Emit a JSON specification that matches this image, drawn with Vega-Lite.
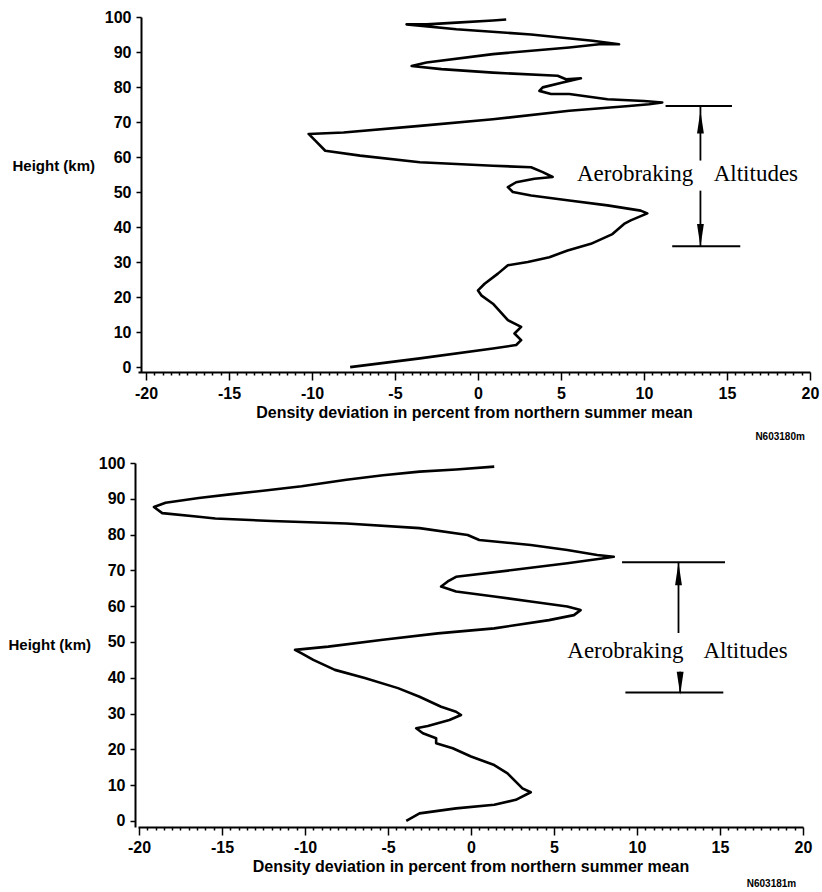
{
  "$schema": "https://vega.github.io/schema/vega-lite/v6.json",
  "background": "white",
  "padding": {"left": 8, "top": 9, "right": 4, "bottom": 4},
  "spacing": 13,
  "config": {
    "view": {"stroke": null},
    "axis": {"domainColor": "black", "tickColor": "black", "labelColor": "black", "titleColor": "black", "grid": false, "labelFont": "Liberation Sans", "titleFont": "Liberation Sans"}
  },
  "datasets": {
    "top": [
      {"x": -7.7, "y": 0}, {"x": -3.5, "y": 2.5}, {"x": 0.9, "y": 5.3}, {"x": 2.3, "y": 6.3}, {"x": 2.6, "y": 7.7}, {"x": 2.2, "y": 9.6}, {"x": 2.6, "y": 11.5}, {"x": 1.8, "y": 13.4}, {"x": 0.9, "y": 18.1}, {"x": 0.2, "y": 20.5}, {"x": 0.0, "y": 21.9}, {"x": 0.4, "y": 23.8}, {"x": 1.2, "y": 26.7}, {"x": 1.8, "y": 29.1}, {"x": 3.0, "y": 30}, {"x": 4.3, "y": 31.4}, {"x": 5.4, "y": 33.3}, {"x": 6.8, "y": 35.2}, {"x": 8.1, "y": 38}, {"x": 8.8, "y": 40.9}, {"x": 9.2, "y": 41.9}, {"x": 10.2, "y": 43.9}, {"x": 9.8, "y": 44.7}, {"x": 7.8, "y": 46.2}, {"x": 5.5, "y": 47.6}, {"x": 3.2, "y": 49}, {"x": 2.1, "y": 50}, {"x": 1.8, "y": 51.4}, {"x": 2.3, "y": 52.8}, {"x": 3.4, "y": 53.8}, {"x": 4.5, "y": 54.3}, {"x": 3.9, "y": 55.7}, {"x": 3.2, "y": 57.1}, {"x": 0.9, "y": 57.5}, {"x": -3.5, "y": 58.5}, {"x": -7.1, "y": 60.4}, {"x": -9.2, "y": 61.8}, {"x": -9.8, "y": 64.7}, {"x": -10.2, "y": 66.6}, {"x": -8.1, "y": 67}, {"x": -3.5, "y": 68.9}, {"x": 0.9, "y": 70.8}, {"x": 5.5, "y": 73.2}, {"x": 9.1, "y": 74.6}, {"x": 10.3, "y": 75.1}, {"x": 11.1, "y": 75.6}, {"x": 10.0, "y": 76.0}, {"x": 7.8, "y": 76.5}, {"x": 5.5, "y": 78}, {"x": 4.4, "y": 78}, {"x": 3.7, "y": 78.9}, {"x": 3.9, "y": 79.9}, {"x": 5.1, "y": 81.3}, {"x": 6.2, "y": 82.5}, {"x": 5.3, "y": 82.2}, {"x": 4.8, "y": 83.2}, {"x": 0.9, "y": 84.1}, {"x": -2.2, "y": 85.1}, {"x": -4.0, "y": 86}, {"x": -3.1, "y": 87}, {"x": 0.9, "y": 89.4}, {"x": 5.5, "y": 91.3}, {"x": 7.3, "y": 92.2}, {"x": 8.5, "y": 92.2}, {"x": 6.9, "y": 93.2}, {"x": 3.2, "y": 95}, {"x": -1.3, "y": 96.5}, {"x": -4.3, "y": 97.9}, {"x": -3.1, "y": 97.9}, {"x": -1.3, "y": 98.4}, {"x": 0.9, "y": 99}, {"x": 1.7, "y": 99.3}
    ],
    "bottom": [
      {"x": -3.9, "y": 0}, {"x": -3.1, "y": 2.1}, {"x": -0.9, "y": 3.5}, {"x": 1.4, "y": 4.5}, {"x": 2.7, "y": 5.9}, {"x": 3.6, "y": 8.0}, {"x": 3.1, "y": 9.1}, {"x": 2.8, "y": 10.5}, {"x": 2.2, "y": 13.3}, {"x": 1.4, "y": 15.6}, {"x": 0.0, "y": 18}, {"x": -1.1, "y": 20.3}, {"x": -2.1, "y": 21.7}, {"x": -2.1, "y": 23.1}, {"x": -2.9, "y": 24.5}, {"x": -3.3, "y": 25.9}, {"x": -2.6, "y": 26.5}, {"x": -1.3, "y": 28.2}, {"x": -0.6, "y": 29.6}, {"x": -0.9, "y": 30.5}, {"x": -1.8, "y": 31.9}, {"x": -3.1, "y": 34.7}, {"x": -4.4, "y": 37.1}, {"x": -6.4, "y": 39.9}, {"x": -8.2, "y": 42.2}, {"x": -9.5, "y": 45}, {"x": -10.2, "y": 46.8}, {"x": -10.6, "y": 47.8}, {"x": -8.6, "y": 48.7}, {"x": -5.3, "y": 50.6}, {"x": -2.0, "y": 52.4}, {"x": 1.4, "y": 53.8}, {"x": 4.7, "y": 56.1}, {"x": 6.2, "y": 57.5}, {"x": 6.6, "y": 58.9}, {"x": 5.8, "y": 59.9}, {"x": 3.6, "y": 61.3}, {"x": 1.4, "y": 62.7}, {"x": -0.9, "y": 64.1}, {"x": -1.8, "y": 65.5}, {"x": -1.4, "y": 66.9}, {"x": -0.9, "y": 68.2}, {"x": 2.5, "y": 70.1}, {"x": 5.8, "y": 72}, {"x": 8.0, "y": 73.4}, {"x": 8.6, "y": 73.8}, {"x": 7.6, "y": 74.3}, {"x": 5.8, "y": 75.7}, {"x": 3.6, "y": 77.1}, {"x": 0.5, "y": 78.5}, {"x": -0.2, "y": 79.9}, {"x": -3.1, "y": 81.8}, {"x": -7.5, "y": 83.1}, {"x": -12.0, "y": 83.8}, {"x": -15.4, "y": 84.5}, {"x": -16.4, "y": 85}, {"x": -18.6, "y": 86}, {"x": -19.1, "y": 87.7}, {"x": -18.4, "y": 88.9}, {"x": -16.4, "y": 90.2}, {"x": -14.4, "y": 91.3}, {"x": -12.4, "y": 92.3}, {"x": -10.2, "y": 93.5}, {"x": -7.5, "y": 95.3}, {"x": -5.3, "y": 96.6}, {"x": -3.1, "y": 97.6}, {"x": -0.9, "y": 98.2}, {"x": 1.4, "y": 99}
    ],
    "topBars": [{"x": 11.3, "x2": 15.3, "y": 74.6}, {"x": 11.7, "x2": 15.8, "y": 34.5}],
    "topShafts": [{"x": 13.4, "y": 74.6, "y2": 59}, {"x": 13.4, "y": 50.4, "y2": 34.5}],
    "topHeads": [{"x": 13.4, "y": 70, "dir": "up"}, {"x": 13.4, "y": 37.6, "dir": "down"}],
    "topText": [{"x": 5.96, "y": 53.1, "t": "Aerobraking"}, {"x": 14.2, "y": 53.1, "t": "Altitudes"}],
    "topCode": [{"x": 18.2, "y": -19.9, "t": "N603180m"}],
    "botBars": [{"x": 9.1, "x2": 15.3, "y": 72.3}, {"x": 9.3, "x2": 15.2, "y": 35.9}],
    "botShafts": [{"x": 12.5, "y": 72.3, "y2": 52.5}, {"x": 12.6, "y": 41.7, "y2": 35.9}],
    "botHeads": [{"x": 12.5, "y": 69, "dir": "up"}, {"x": 12.6, "y": 38.5, "dir": "down"}],
    "botText": [{"x": 5.8, "y": 45.5, "t": "Aerobraking"}, {"x": 14.0, "y": 45.5, "t": "Altitudes"}],
    "botCode": [{"x": 18.1, "y": -17.6, "t": "N603181m"}]
  },
  "vconcat": [
    {
      "width": 672,
      "height": 355,
      "encoding": {
        "x": {"field": "x", "type": "quantitative", "scale": {"domain": [-20.48, 20], "nice": false, "zero": false},
          "axis": {"values": [-20,-19.5,-19,-18.5,-18,-17.5,-17,-16.5,-16,-15.5,-15,-14.5,-14,-13.5,-13,-12.5,-12,-11.5,-11,-10.5,-10,-9.5,-9,-8.5,-8,-7.5,-7,-6.5,-6,-5.5,-5,-4.5,-4,-3.5,-3,-2.5,-2,-1.5,-1,-0.5,0,0.5,1,1.5,2,2.5,3,3.5,4,4.5,5,5.5,6,6.5,7,7.5,8,8.5,9,9.5,10,10.5,11,11.5,12,12.5,13,13.5,14,14.5,15,15.5,16,16.5,17,17.5,18,18.5,19,19.5,20],
            "labelExpr": "datum.value % 5 === 0 ? '' + datum.value : ''",
            "tickSize": {"condition": {"test": "datum.value % 5 === 0", "value": 8}, "value": 3},
            "tickWidth": 1.5, "domainWidth": 2, "labelFontSize": 16, "labelFontWeight": "bold", "labelPadding": 5,
            "labelFlush": false, "labelOverlap": false,
            "title": "Density deviation in percent from northern summer mean", "titleFontSize": 16, "titleFontWeight": "bold", "titlePadding": 3}},
        "y": {"field": "y", "type": "quantitative", "scale": {"domain": [-1.4, 100], "nice": false, "zero": false},
          "axis": {"values": [0,10,20,30,40,50,60,70,80,90,100], "labelExpr": "'' + datum.value", "tickSize": 5, "tickWidth": 1.5, "domainWidth": 2, "offset": -3,
            "labelFontSize": 16, "labelFontWeight": "bold", "labelPadding": 5, "labelFlush": false, "labelOverlap": false,
            "title": "Height (km)", "titleAngle": 0, "titleAlign": "left", "titleBaseline": "middle", "titleX": -129, "titleY": 148, "titleFontSize": 15, "titleFontWeight": "bold"}}
      },
      "layer": [
        {
          "data": {"name": "top"},
          "mark": {"type": "line", "color": "black", "strokeWidth": 2.6, "strokeJoin": "round"},
          "encoding": {"order": {"value": null}}
        },
        {
          "data": {"name": "topBars"},
          "mark": {"type": "rule", "color": "black", "strokeWidth": 2},
          "encoding": {"x2": {"field": "x2"}}
        },
        {
          "data": {"name": "topShafts"},
          "mark": {"type": "rule", "color": "black", "strokeWidth": 1.8},
          "encoding": {"y2": {"field": "y2"}}
        },
        {
          "data": {"name": "topHeads"},
          "mark": {"type": "point", "filled": true, "color": "black", "opacity": 1, "size": 520},
          "encoding": {
            "shape": {"field": "dir", "type": "nominal", "scale": {"domain": ["up", "down"], "range": ["M-0.3,1L0,-1L0.3,1Z", "M-0.3,-1L0,1L0.3,-1Z"]}, "legend": null}
          }
        },
        {
          "data": {"name": "topText"},
          "mark": {"type": "text", "font": "Liberation Serif", "fontSize": 23, "align": "left", "baseline": "alphabetic", "color": "black"},
          "encoding": {"text": {"field": "t"}}
        },
        {
          "data": {"name": "topCode"},
          "mark": {"type": "text", "font": "Liberation Sans", "fontSize": 10, "fontWeight": "bold", "align": "center", "baseline": "middle", "color": "black"},
          "encoding": {"text": {"field": "t"}}
        }
      ]
    },
    {
      "width": 665,
      "height": 364,
      "encoding": {
        "x": {"field": "x", "type": "quantitative", "scale": {"domain": [-20.06, 20], "nice": false, "zero": false},
          "axis": {"values": [-20,-19.5,-19,-18.5,-18,-17.5,-17,-16.5,-16,-15.5,-15,-14.5,-14,-13.5,-13,-12.5,-12,-11.5,-11,-10.5,-10,-9.5,-9,-8.5,-8,-7.5,-7,-6.5,-6,-5.5,-5,-4.5,-4,-3.5,-3,-2.5,-2,-1.5,-1,-0.5,0,0.5,1,1.5,2,2.5,3,3.5,4,4.5,5,5.5,6,6.5,7,7.5,8,8.5,9,9.5,10,10.5,11,11.5,12,12.5,13,13.5,14,14.5,15,15.5,16,16.5,17,17.5,18,18.5,19,19.5,20],
            "labelExpr": "datum.value % 5 === 0 ? '' + datum.value : ''",
            "tickSize": {"condition": {"test": "datum.value % 5 === 0", "value": 8}, "value": 3},
            "tickWidth": 1.5, "domainWidth": 2, "labelFontSize": 16, "labelFontWeight": "bold", "labelPadding": 4,
            "labelFlush": false, "labelOverlap": false,
            "title": "Density deviation in percent from northern summer mean", "titleFontSize": 16, "titleFontWeight": "bold", "titlePadding": 3}},
        "y": {"field": "y", "type": "quantitative", "scale": {"domain": [-1.7, 100], "nice": false, "zero": false},
          "axis": {"values": [0,10,20,30,40,50,60,70,80,90,100], "labelExpr": "'' + datum.value", "tickSize": 5, "tickWidth": 1.5, "domainWidth": 2, "offset": 3,
            "labelFontSize": 16, "labelFontWeight": "bold", "labelPadding": 5, "labelFlush": false, "labelOverlap": false,
            "title": "Height (km)", "titleAngle": 0, "titleAlign": "left", "titleBaseline": "middle", "titleX": -127, "titleY": 181, "titleFontSize": 15, "titleFontWeight": "bold"}}
      },
      "layer": [
        {
          "data": {"name": "bottom"},
          "mark": {"type": "line", "color": "black", "strokeWidth": 2.6, "strokeJoin": "round"},
          "encoding": {"order": {"value": null}}
        },
        {
          "data": {"name": "botBars"},
          "mark": {"type": "rule", "color": "black", "strokeWidth": 2},
          "encoding": {"x2": {"field": "x2"}}
        },
        {
          "data": {"name": "botShafts"},
          "mark": {"type": "rule", "color": "black", "strokeWidth": 1.8},
          "encoding": {"y2": {"field": "y2"}}
        },
        {
          "data": {"name": "botHeads"},
          "mark": {"type": "point", "filled": true, "color": "black", "opacity": 1, "size": 520},
          "encoding": {
            "shape": {"field": "dir", "type": "nominal", "scale": {"domain": ["up", "down"], "range": ["M-0.3,1L0,-1L0.3,1Z", "M-0.3,-1L0,1L0.3,-1Z"]}, "legend": null}
          }
        },
        {
          "data": {"name": "botText"},
          "mark": {"type": "text", "font": "Liberation Serif", "fontSize": 23, "align": "left", "baseline": "alphabetic", "color": "black"},
          "encoding": {"text": {"field": "t"}}
        },
        {
          "data": {"name": "botCode"},
          "mark": {"type": "text", "font": "Liberation Sans", "fontSize": 10, "fontWeight": "bold", "align": "center", "baseline": "middle", "color": "black"},
          "encoding": {"text": {"field": "t"}}
        }
      ]
    }
  ]
}
